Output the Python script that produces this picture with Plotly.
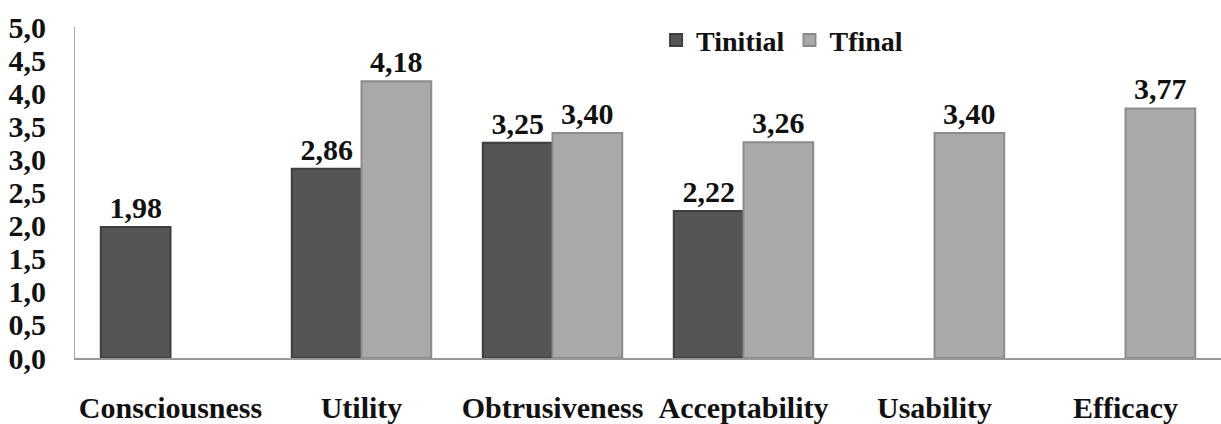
import plotly.graph_objects as go

categories = ["Consciousness", "Utility", "Obtrusiveness", "Acceptability", "Usability", "Efficacy"]
tinitial = [1.98, 2.86, 3.25, 2.22, None, None]
tfinal = [None, 4.18, 3.40, 3.26, 3.40, 3.77]
y_ticks = [0, 0.5, 1, 1.5, 2, 2.5, 3, 3.5, 4, 4.5, 5]

FONT = "Liberation Serif"

fig = go.Figure()
fig.add_trace(go.Bar(
    name="Tinitial", x=categories, y=tinitial,
    marker=dict(color="#555555", line=dict(color="#3e3e3e", width=2)),
    texttemplate="%{y:.2f}", textposition="outside", cliponaxis=False,
    textfont=dict(family=FONT, size=30, color="#111111", weight="bold"),
))
fig.add_trace(go.Bar(
    name="Tfinal", x=categories, y=tfinal,
    marker=dict(color="#a9a9a9", line=dict(color="#8c8c8c", width=2)),
    texttemplate="%{y:.2f}", textposition="outside", cliponaxis=False,
    textfont=dict(family=FONT, size=30, color="#111111", weight="bold"),
))

fig.update_layout(
    width=1221, height=424,
    margin=dict(l=75, r=0, t=27, b=63),
    paper_bgcolor="white", plot_bgcolor="white",
    barmode="group", bargap=0.27, bargroupgap=0,
    separators=",.",
    font=dict(family=FONT, size=30, color="#111111", weight="bold"),
    showlegend=True,
    legend=dict(orientation="h", x=0.617, y=0.96, xanchor="center", yanchor="middle",
                font=dict(family=FONT, size=28, weight="bold"),
                bgcolor="rgba(0,0,0,0)", itemwidth=30, tracegroupgap=0),
    xaxis=dict(showline=True, linecolor="#999999", linewidth=1.5, showgrid=False,
               ticks="", ticklabelstandoff=22,
               tickfont=dict(family=FONT, size=30, weight="bold")),
    yaxis=dict(range=[0, 5], tickvals=y_ticks, tickformat=".1f",
               showline=True, linecolor="#aaaaaa", linewidth=1, showgrid=False,
               zeroline=False, ticks="", ticklabelstandoff=22,
               tickfont=dict(family=FONT, size=30, weight="bold")),
)

fig.write_html("out.html")
